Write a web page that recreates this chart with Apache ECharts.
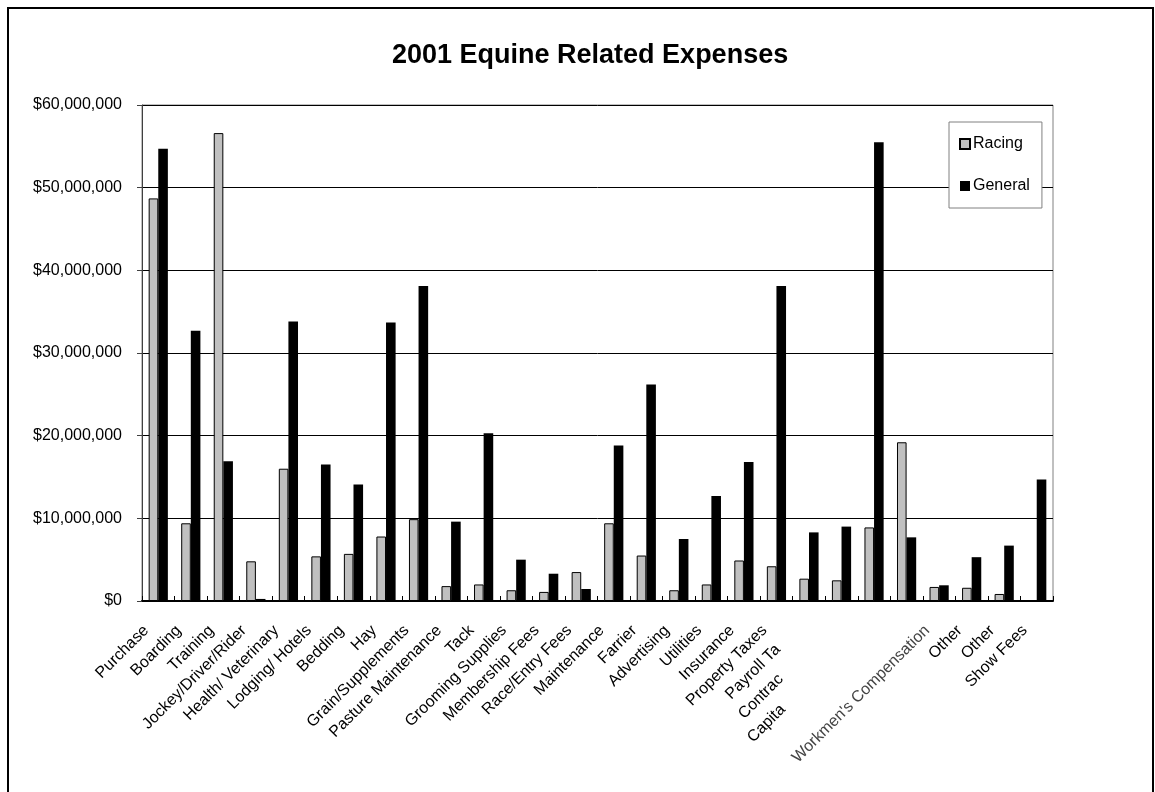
<!DOCTYPE html>
<html>
<head>
<meta charset="utf-8">
<script src="https://cdn.jsdelivr.net/npm/echarts@6/dist/echarts.min.js"></script>
<style>
    html, body {margin: 0; padding: 0; background: #fff;}
    #main {width: 1155px; height: 792px;}
</style>
</head>
<body>
<div id="main"></div>
<script>
//类别名称
var categories = ['Purchase', 'Boarding', 'Training', 'Jockey/Driver/Rider', 'Health/ Veterinary', 'Lodging/ Hotels',
    'Bedding', 'Hay', 'Grain/Supplements', 'Pasture Maintenance', 'Tack', 'Grooming Supplies', 'Membership Fees',
    'Race/Entry Fees', 'Maintenance', 'Farrier', 'Advertising', 'Utilities', 'Insurance', 'Property Taxes',
    'Payroll Ta', 'Contrac', 'Capita', '', "Workmen's Compensation", 'Other', 'Other', 'Show Fees'];
//Racing 数据
var racing = [48700000, 9400000, 56600000, 4800000, 16000000, 5400000, 5700000, 7800000, 9900000, 1800000,
    2000000, 1300000, 1100000, 3500000, 9400000, 5500000, 1300000, 2000000, 4900000, 4200000,
    2700000, 2500000, 8900000, 19200000, 1700000, 1600000, 850000, null];
//General 数据
var general = [54700000, 32700000, 16900000, 250000, 33800000, 16500000, 14100000, 33700000, 38100000, 9600000,
    20300000, 5000000, 3300000, 1450000, 18800000, 26200000, 7500000, 12700000, 16800000, 38100000,
    8300000, 9000000, 55500000, 7700000, 1900000, 5300000, 6700000, 14700000];
var seriesNames = ['Racing', 'General'];
var yTicks = {min: 0, max: 60000000, step: 10000000};

var font = 'Arial, "Liberation Sans", sans-serif';
var basePad = 17;//标签整体向左下偏移
var cutPad = {20: 27, 21: 69, 22: 112};//被截断的标签再偏移

function money(v) {
    return '$' + String(v).replace(/\B(?=(\d{3})+(?!\d))/g, ',');
}

//x轴标签样式
var labelRich = {
    n: {fontFamily: font, fontSize: 16, color: '#000', padding: [0, basePad, 0, 0]},
    g: {fontFamily: font, fontSize: 16, color: '#444', padding: [0, basePad, 0, 0]}
};
for (var k in cutPad) {
    labelRich['c' + k] = {fontFamily: font, fontSize: 16, color: '#000', padding: [0, basePad + cutPad[k], 0, 0]};
}

var myChart = echarts.init(document.getElementById('main'));
myChart.setOption({
    animation: false,
    backgroundColor: '#fff',
    textStyle: {fontFamily: font},
    title: {
        text: '2001 Equine Related Expenses',
        left: 387,
        top: 37,
        textStyle: {fontFamily: font, fontSize: 27, fontWeight: 'bold', color: '#000'}
    },
    graphic: [{
        type: 'rect',
        shape: {x: 8, y: 8, width: 1145, height: 800},
        style: {fill: 'none', stroke: '#000', lineWidth: 2},
        z: 100
    }],
    legend: {
        orient: 'vertical',
        left: 949,
        top: 122,
        padding: [14, 12, 14, 10],
        itemGap: 26,
        itemWidth: 10,
        itemHeight: 10,
        icon: 'rect',
        backgroundColor: '#fff',
        borderColor: '#808080',
        borderWidth: 1,
        borderRadius: 0,
        textStyle: {fontFamily: font, fontSize: 16, color: '#000', padding: [0, 0, 0, -2]},
        data: seriesNames
    },
    grid: {
        left: 142,
        right: 102,
        top: 105,
        bottom: 191,
        show: true,
        borderColor: '#808080',
        borderWidth: 1
    },
    xAxis: {
        type: 'category',
        data: categories,
        axisLine: {lineStyle: {color: '#000', width: 2}},
        axisTick: {show: true, inside: true, length: 5, lineStyle: {color: '#000'}},
        axisLabel: {
            interval: 0,
            rotate: 45,
            margin: 15,
            fontFamily: font,
            fontSize: 16,
            color: '#000',
            formatter: function (v, i) {
                if (cutPad[i]) return '{c' + i + '|' + v + '}';
                if (v.indexOf('Workmen') === 0) return '{g|' + v + '}';
                return '{n|' + v + '}';
            },
            rich: labelRich
        }
    },
    yAxis: {
        type: 'value',
        min: yTicks.min,
        max: yTicks.max,
        interval: yTicks.step,
        axisLine: {show: true, lineStyle: {color: '#404040', width: 1}},
        axisTick: {show: true, length: 5, lineStyle: {color: '#404040'}},
        splitLine: {lineStyle: {color: '#000', width: 1}},
        axisLabel: {
            margin: 20,
            fontFamily: font,
            fontSize: 16,
            color: '#000',
            formatter: money
        }
    },
    series: [{
        name: seriesNames[0],
        type: 'bar',
        data: racing,
        barGap: '0%',
        barCategoryGap: '41%',
        itemStyle: {color: '#c0c0c0', borderColor: '#000', borderWidth: 1}
    }, {
        name: seriesNames[1],
        type: 'bar',
        data: general,
        barGap: '0%',
        barCategoryGap: '41%',
        itemStyle: {color: '#000'}
    }]
});
</script>
</body>
</html>
